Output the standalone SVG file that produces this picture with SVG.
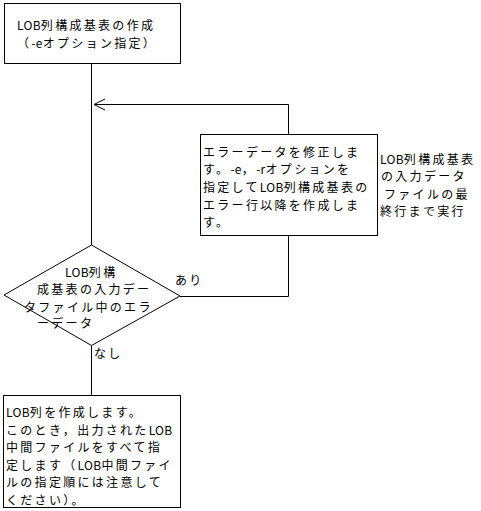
<svg xmlns="http://www.w3.org/2000/svg" width="481" height="511" viewBox="0 0 481 511">
<defs>
<style>
.box{fill:#fff;stroke:#000;stroke-width:1}
.ln{fill:none;stroke:#000;stroke-width:1}
text{font-family:"Noto Sans CJK JP","Noto Sans CJK SC",sans-serif;font-size:12px;letter-spacing:2.3px;fill:#000}
.l{letter-spacing:0.3px}
</style>
<marker id="open" markerWidth="14" markerHeight="14" viewBox="-13 -7 14 14" refX="0" refY="0" orient="auto" markerUnits="userSpaceOnUse">
<path d="M-11,-5.5 L0,0 L-11,5.5" fill="none" stroke="#000" stroke-width="1"/>
</marker>
</defs>
<rect width="481" height="511" fill="#fff"/>
<g id="connectors">
<line class="ln" x1="91.5" y1="63" x2="91.5" y2="245"/>
<polyline class="ln" points="288.5,134 288.5,104.5 94,104.5" marker-end="url(#open)"/>
<polyline class="ln" points="288.5,235 288.5,296.5 180,296.5"/>
<line class="ln" x1="91.5" y1="345" x2="91.5" y2="395"/>
<text x="175" y="285">あり</text>
<text x="94" y="358">なし</text>
</g>
<g id="start">
<rect class="box" x="4.5" y="3.5" width="176" height="60"/>
<text x="17" y="30"><tspan class="l">LOB</tspan>列構成基表の作成</text>
<text x="17" y="48">（<tspan class="l">-e</tspan>オプション指定）</text>
</g>
<g id="fix">
<rect class="box" x="200.5" y="134.5" width="177" height="101"/>
<text x="203" y="157">エラーデータを修正しま</text>
<text x="203" y="174">す。<tspan class="l">-e</tspan>，<tspan class="l">-r</tspan>オプションを</text>
<text x="203" y="192">指定して<tspan class="l">LOB</tspan>列構成基表の</text>
<text x="203" y="210">エラー行以降を作成しま</text>
<text x="203" y="227">す。</text>
</g>
<g id="note">
<text x="380" y="164"><tspan class="l">LOB</tspan>列構成基表</text>
<text x="381" y="181">の入力データ</text>
<text x="384" y="199">ファイルの最</text>
<text x="380" y="216">終行まで実行</text>
</g>
<g id="decision">
<polygon class="box" points="91.5,245 180,296 91.5,345.5 4,295"/>
<text x="65" y="277"><tspan class="l">LOB</tspan>列構</text>
<text x="37" y="294">成基表の入力デー</text>
<text x="24" y="312">タファイル中のエラ</text>
<text x="37" y="328">ーデータ</text>
</g>
<g id="create">
<rect class="box" x="3.5" y="395.5" width="177" height="112"/>
<text x="6" y="417"><tspan class="l">LOB</tspan>列を作成します。</text>
<text x="6" y="435">このとき，出力された<tspan class="l">LOB</tspan></text>
<text x="6" y="452">中間ファイルをすべて指</text>
<text x="6" y="470">定します（<tspan class="l">LOB</tspan>中間ファイ</text>
<text x="6" y="487">ルの指定順には注意して</text>
<text x="6" y="505">ください）。</text>
</g>
</svg>
